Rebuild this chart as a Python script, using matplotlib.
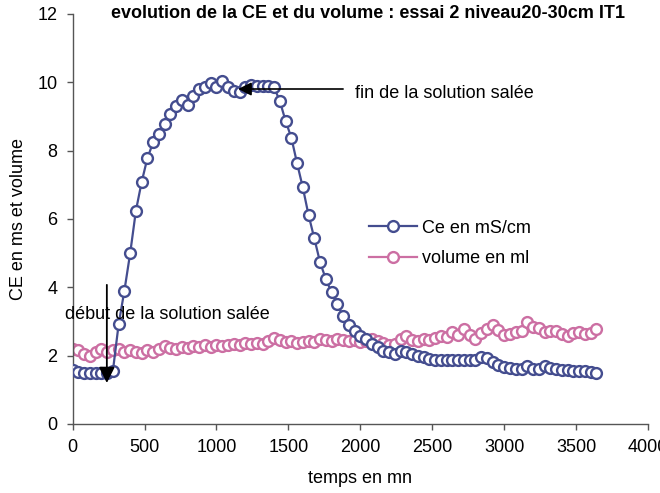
import matplotlib
matplotlib.use("Agg")
import matplotlib.pyplot as plt

plt.rcParams['font.family'] = ['Liberation Sans', 'DejaVu Sans']

# temps de mesure (mn)
temps = [0, 40, 80, 120, 160, 200, 240, 280, 320, 360,
         400, 440, 480, 520, 560, 600, 640, 680, 720, 760,
         800, 840, 880, 920, 960, 1000, 1040, 1080, 1120, 1160,
         1200, 1240, 1280, 1320, 1360, 1400, 1440, 1480, 1520, 1560,
         1600, 1640, 1680, 1720, 1760, 1800, 1840, 1880, 1920, 1960,
         2000, 2040, 2080, 2120, 2160, 2200, 2240, 2280, 2320, 2360,
         2400, 2440, 2480, 2520, 2560, 2600, 2640, 2680, 2720, 2760,
         2800, 2840, 2880, 2920, 2960, 3000, 3040, 3080, 3120, 3160,
         3200, 3240, 3280, 3320, 3360, 3400, 3440, 3480, 3520, 3560,
         3600, 3640]

# conductivite electrique (mS/cm)
ce = [1.58, 1.52, 1.50, 1.50, 1.50, 1.50, 1.50, 1.55, 2.92, 3.90,
      4.99, 6.24, 7.08, 7.78, 8.24, 8.48, 8.77, 9.06, 9.31, 9.48,
      9.33, 9.60, 9.80, 9.87, 9.99, 9.87, 10.04, 9.85, 9.75, 9.72,
      9.85, 9.91, 9.90, 9.90, 9.88, 9.85, 9.45, 8.87, 8.38, 7.63,
      6.92, 6.11, 5.43, 4.73, 4.24, 3.85, 3.51, 3.15, 2.90, 2.73,
      2.58, 2.48, 2.35, 2.25, 2.14, 2.10, 2.05, 2.14, 2.12, 2.05,
      2.00, 1.95, 1.90, 1.88, 1.87, 1.87, 1.86, 1.86, 1.87, 1.87,
      1.88, 1.95, 1.92, 1.82, 1.72, 1.66, 1.63, 1.62, 1.61, 1.70,
      1.62, 1.60, 1.70, 1.63, 1.60, 1.58, 1.57, 1.56, 1.55, 1.54,
      1.52, 1.50]

# volume (ml)
volume = [2.18, 2.15, 2.05, 2.00, 2.12, 2.18, 2.10, 2.15, 2.20, 2.12,
          2.15, 2.12, 2.08, 2.15, 2.10, 2.20, 2.28, 2.22, 2.20, 2.25,
          2.22, 2.28, 2.24, 2.30, 2.26, 2.30, 2.28, 2.32, 2.34, 2.30,
          2.36, 2.33, 2.38, 2.35, 2.42, 2.52, 2.45, 2.40, 2.42, 2.38,
          2.40, 2.44, 2.40, 2.48, 2.45, 2.42, 2.50, 2.45, 2.42, 2.46,
          2.40, 2.44, 2.50, 2.42, 2.38, 2.32, 2.34, 2.48, 2.58, 2.45,
          2.42, 2.50, 2.45, 2.52, 2.58, 2.55, 2.68, 2.60, 2.78, 2.60,
          2.50, 2.65, 2.78, 2.90, 2.75, 2.60, 2.62, 2.68, 2.72, 2.97,
          2.85, 2.82, 2.68, 2.72, 2.73, 2.62, 2.58, 2.66, 2.68, 2.62,
          2.66, 2.78]

xticks = [0, 500, 1000, 1500, 2000, 2500, 3000, 3500, 4000]
yticks = [0, 2, 4, 6, 8, 10, 12]

bleu = '#444d8f'
rose = '#cc6fa3'

fig = plt.figure(figsize=(6.6, 4.93), dpi=100)
ax = fig.add_axes([0.110, 0.140, 0.872, 0.832])

ax.plot(temps, ce, color=bleu, lw=1.6, marker='o', ms=7.8,
        mfc='white', mec=bleu, mew=1.7, label='Ce en mS/cm', zorder=3)
ax.plot(temps, volume, color=rose, lw=1.6, marker='o', ms=7.8,
        mfc='white', mec=rose, mew=1.7, label='volume en ml', zorder=2)

ax.set_xlim(0, 4000)
ax.set_ylim(0, 12)
ax.set_xticks(xticks)
ax.set_yticks(yticks)
ax.tick_params(labelsize=13, length=4, width=1, color='#555555', pad=7)

for side in ['top', 'right']:
    ax.spines[side].set_visible(False)
for side in ['left', 'bottom']:
    ax.spines[side].set_color('#555555')
    ax.spines[side].set_linewidth(1)

ax.set_xlabel('temps en mn', fontsize=13, labelpad=10)
ax.set_ylabel('CE en ms et volume', fontsize=13, labelpad=7)
fig.text(368 / 660, 1 - 14 / 493,
         'evolution de la CE et du volume : essai 2 niveau20-30cm IT1',
         fontsize=13, fontweight='bold', ha='center', va='center')

ax.legend(loc='upper left', bbox_to_anchor=(0.515, 0.498), frameon=False,
          fontsize=13, handlelength=2.66, handletextpad=0.28,
          labelspacing=0.75, borderaxespad=0, borderpad=0)

# fleches de debut et fin d'injection de la solution salee
ax.annotate('', xy=(1150, 9.8), xytext=(1880, 9.8),
            arrowprops=dict(arrowstyle='-|>', color='black', lw=1.2,
                            mutation_scale=20, shrinkA=0, shrinkB=0),
            zorder=5)
ax.text(1960, 9.68, 'fin de la solution salée', fontsize=13,
        va='center', ha='left')

ax.annotate('', xy=(238, 1.2), xytext=(238, 4.07),
            arrowprops=dict(arrowstyle='-|>', color='black', lw=1.3,
                            mutation_scale=24, shrinkA=0, shrinkB=0),
            zorder=5)
ax.text(-55, 3.19, 'début de la solution salée', fontsize=13,
        va='center', ha='left', zorder=6)

fig.savefig('out.png', dpi=100)
